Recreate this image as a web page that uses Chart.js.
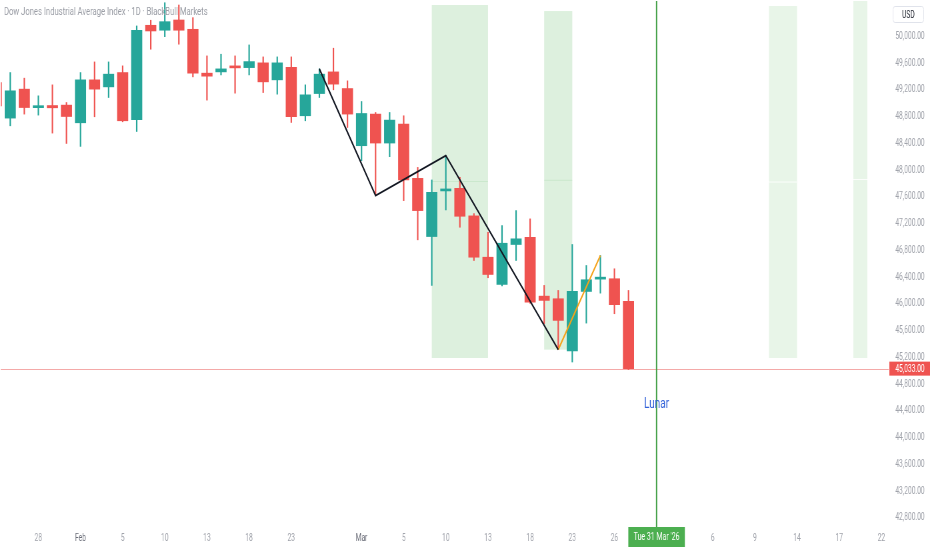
<!DOCTYPE html>
<html>
<head>
<meta charset="utf-8">
<title>Dow Jones Industrial Average Index - 1D</title>
<script src="https://cdn.jsdelivr.net/npm/chart.js@4.4.1/dist/chart.umd.min.js"></script>
<style>
  html, body { margin: 0; padding: 0; background: #fff; overflow: hidden; }
  /* the chart is laid out 1.5x wider and squeezed back to 932px, like the reference */
  #wrap { width: 1398px; height: 550px; transform: scaleX(0.666667); transform-origin: 0 0; }
</style>
</head>
<body>
<div id="wrap"><canvas id="dowChart"></canvas></div>
<script>
// Daily candles, index 0 = Fri 23 Jan 2026 ... index 45 = Fri 27 Mar 2026
const opens  = [49311, 48779, 49212, 48935, 48967, 48973, 48709, 49351, 49246, 49460,
                48754, 50167, 50093, 50246, 50107, 49451, 49470, 49545, 49534, 49605,
                49351, 49540, 48814, 49146, 49470, 49221, 48366, 48839, 48406, 48690,
                47878, 47008, 47690, 47729, 47317, 46699, 46292, 46889, 46997, 46117,
                46078, 45296, 46187, 46371, 46377, 46038];
const highs  = [49380, 49460, 49376, 49112, 49276, 49012, 49460, 49619, 49619, 49560,
                50157, 50242, 50504, 50470, 50281, 49709, 49734, 49709, 49873, 49694,
                49694, 49694, 49276, 49515, 49824, 49336, 49027, 48863, 48863, 48814,
                48042, 47854, 48217, 47893, 47351, 47072, 47172, 47396, 47272, 46277,
                46202, 46889, 46575, 46724, 46526, 46202];
const lows   = [48900, 48664, 48839, 48824, 48555, 48400, 48356, 48799, 49087, 48724,
                48579, 49809, 49997, 49884, 49396, 49048, 49425, 49152, 49425, 49161,
                49137, 48714, 48739, 49087, 49202, 48639, 48142, 47620, 48202, 47545,
                46959, 46277, 47406, 47147, 46650, 46392, 46270, 46650, 46010, 45705,
                45317, 45132, 45714, 46162, 45854, 45020];
const closes = [48963, 49187, 48937, 48950, 48933, 48803, 49351, 49212, 49436, 48739,
                50093, 50082, 50221, 50093, 49451, 49406, 49515, 49530, 49624, 49321,
                49605, 48799, 49127, 49436, 49287, 48839, 48848, 48406, 48749, 47854,
                47396, 47669, 47705, 47311, 46699, 46441, 46908, 46974, 46028, 46053,
                45754, 46187, 46362, 46386, 45989, 45033];

// x axis ticks (trading-day index) and y axis ticks
const xTickIndex  = [3, 6, 9, 12, 15, 18, 21, 26, 29, 32, 35, 38, 41, 44, 51, 54, 57, 60, 63];
const xTickLabels = ['28', 'Feb', '5', '10', '13', '18', '23', 'Mar', '5', '10', '13', '18', '23', '26',
                     '6', '9', '14', '17', '22'];
const yTicks = [42800, 43200, 43600, 44000, 44400, 44800, 45200, 45600, 46000, 46400,
                46800, 47200, 47600, 48000, 48400, 48800, 49200, 49600, 50000];

// drawings on the chart
const zigzagX = [23, 27, 32, 40];
const zigzagY = [49515, 47620, 48217, 45317];
const legX = [40, 43];
const legY = [45317, 46724];

const boxStart  = [31, 39, 55, 61];
const boxEnd    = [35, 41, 57, 62];
const boxTop    = [50470, 50380, 50455, 50530];
const boxBottom = [45192, 45317, 45192, 45192];

const lastPrice   = 45033;
const cursorIndex = 47;
const cursorLabel = "Tue 31 Mar '26";
const noteText    = 'Lunar';
const notePrice   = 44500;
const titleText   = 'Dow Jones Industrial Average Index \u00b7 1D \u00b7 BlackBull Markets';

const upColor = '#26a69a';
const downColor = '#ef5350';
const candleColors = opens.map((o, i) => closes[i] >= o ? upColor : downColor);
const fmt = v => v.toLocaleString('en-US', { minimumFractionDigits: 2, maximumFractionDigits: 2 });

const overlay = {
    id: 'overlay',
    beforeDatasetsDraw(chart) {
        const { ctx, chartArea, scales: { x, y } } = chart;
        ctx.save();
        ctx.beginPath();
        ctx.rect(chartArea.left, chartArea.top, chartArea.width, chartArea.height);
        ctx.clip();

        // shaded boxes with their mid line
        boxStart.forEach((s, k) => {
            const left = x.getPixelForValue(s);
            const right = x.getPixelForValue(boxEnd[k]);
            const top = y.getPixelForValue(boxTop[k]);
            const bottom = y.getPixelForValue(boxBottom[k]);
            ctx.fillStyle = k < 2 ? 'rgba(76,175,80,0.19)' : 'rgba(76,175,80,0.13)';
            ctx.fillRect(left, top, right - left, bottom - top);
            ctx.fillStyle = k < 2 ? 'rgba(76,175,80,0.12)' : 'rgba(255,255,255,0.85)';
            ctx.fillRect(left, (top + bottom) / 2 - 0.5, right - left, 1);
        });

        // last price line
        const py = Math.round(y.getPixelForValue(lastPrice)) + 0.5;
        ctx.strokeStyle = '#f4a9a8';
        ctx.lineWidth = 1;
        ctx.beginPath();
        ctx.moveTo(chartArea.left, py);
        ctx.lineTo(chartArea.right, py);
        ctx.stroke();
        ctx.restore();
    },
    afterDatasetsDraw(chart) {
        const { ctx, chartArea, width, scales: { x, y } } = chart;
        ctx.save();

        // vertical line at the cursor date
        const cx = x.getPixelForValue(cursorIndex);
        ctx.strokeStyle = '#43a047';
        ctx.lineWidth = 2;
        ctx.beginPath();
        ctx.moveTo(cx, chartArea.top);
        ctx.lineTo(cx, chartArea.bottom);
        ctx.stroke();

        // its label
        ctx.font = '15px Roboto';
        ctx.fillStyle = '#2f5fd8';
        ctx.textAlign = 'center';
        ctx.textBaseline = 'middle';
        ctx.fillText(noteText, cx, y.getPixelForValue(notePrice));

        // date badge on the time axis
        ctx.font = '10.5px Roboto';
        const tw = ctx.measureText(cursorLabel).width + 16;
        ctx.fillStyle = '#4caf50';
        ctx.fillRect(cx - tw / 2, chartArea.bottom - 1, tw, 20);
        ctx.fillStyle = '#ffffff';
        ctx.fillText(cursorLabel, cx, chartArea.bottom + 9.5);

        // price badge on the price axis
        const py = y.getPixelForValue(lastPrice);
        ctx.fillStyle = '#ef5350';
        ctx.fillRect(chartArea.right + 1, py - 7, width - chartArea.right - 4, 14);
        ctx.fillStyle = '#ffffff';
        ctx.font = '10px Roboto';
        ctx.textAlign = 'left';
        ctx.fillText(fmt(lastPrice), chartArea.right + 10, py + 0.5);

        // title
        ctx.font = '11.5px Roboto';
        ctx.fillStyle = '#9a9da5';
        ctx.fillText(titleText, 6, 12);

        // currency box
        ctx.strokeStyle = '#e0e3eb';
        ctx.lineWidth = 1;
        ctx.beginPath();
        ctx.roundRect(chartArea.right + 6.5, 6.5, 46, 16, 3);
        ctx.stroke();
        ctx.fillStyle = '#131722';
        ctx.textAlign = 'center';
        ctx.font = '10px Roboto';
        ctx.fillText('USD', chartArea.right + 29.5, 15);
        ctx.restore();
    }
};

new Chart(document.getElementById('dowChart'), {
    type: 'bar',
    data: {
        datasets: [
            {
                type: 'line',
                data: zigzagX.map((v, i) => ({ x: v, y: zigzagY[i] })),
                borderColor: '#131722',
                borderWidth: 2,
                pointRadius: 0,
                order: 0
            },
            {
                type: 'line',
                data: legX.map((v, i) => ({ x: v, y: legY[i] })),
                borderColor: '#f5a31a',
                borderWidth: 2,
                pointRadius: 0,
                order: 0
            },
            {
                data: opens.map((o, i) => ({ x: i, y: [o, closes[i]] })),
                backgroundColor: candleColors,
                barThickness: 16,
                minBarLength: 2,
                grouped: false,
                order: 1
            },
            {
                data: opens.map((o, i) => ({ x: i, y: [lows[i], highs[i]] })),
                backgroundColor: candleColors,
                barThickness: 1.5,
                grouped: false,
                order: 2
            }
        ]
    },
    options: {
        responsive: true,
        maintainAspectRatio: false,
        animation: false,
        layout: { padding: 0 },
        plugins: {
            legend: { display: false },
            tooltip: { enabled: false }
        },
        scales: {
            x: {
                type: 'linear',
                offset: false,
                min: 0.32,
                max: 63.52,
                grid: { display: false, drawTicks: false },
                border: { display: false },
                afterBuildTicks: scale => { scale.ticks = xTickIndex.map(v => ({ value: v })); },
                afterFit: scale => { scale.height = 22; scale.paddingLeft = 0; scale.paddingRight = 0; },
                ticks: {
                    autoSkip: false,
                    maxRotation: 0,
                    padding: 4,
                    font: { family: 'Roboto', size: 10 },
                    color: c => (xTickLabels[c.index] === 'Feb' || xTickLabels[c.index] === 'Mar') ? '#6a6d78' : '#a0a3ab',
                    callback: (value, index) => xTickLabels[index]
                }
            },
            y: {
                position: 'right',
                min: 42650,
                max: 50530,
                grid: { display: false, drawTicks: false },
                border: { display: false },
                afterBuildTicks: scale => { scale.ticks = yTicks.map(v => ({ value: v })); },
                afterFit: scale => { scale.width = 65; scale.paddingTop = 0; scale.paddingBottom = 0; },
                ticks: {
                    padding: 10,
                    font: { family: 'Roboto', size: 10 },
                    color: '#a0a3ab',
                    callback: value => fmt(value)
                }
            }
        }
    },
    plugins: [overlay]
});
</script>
</body>
</html>
